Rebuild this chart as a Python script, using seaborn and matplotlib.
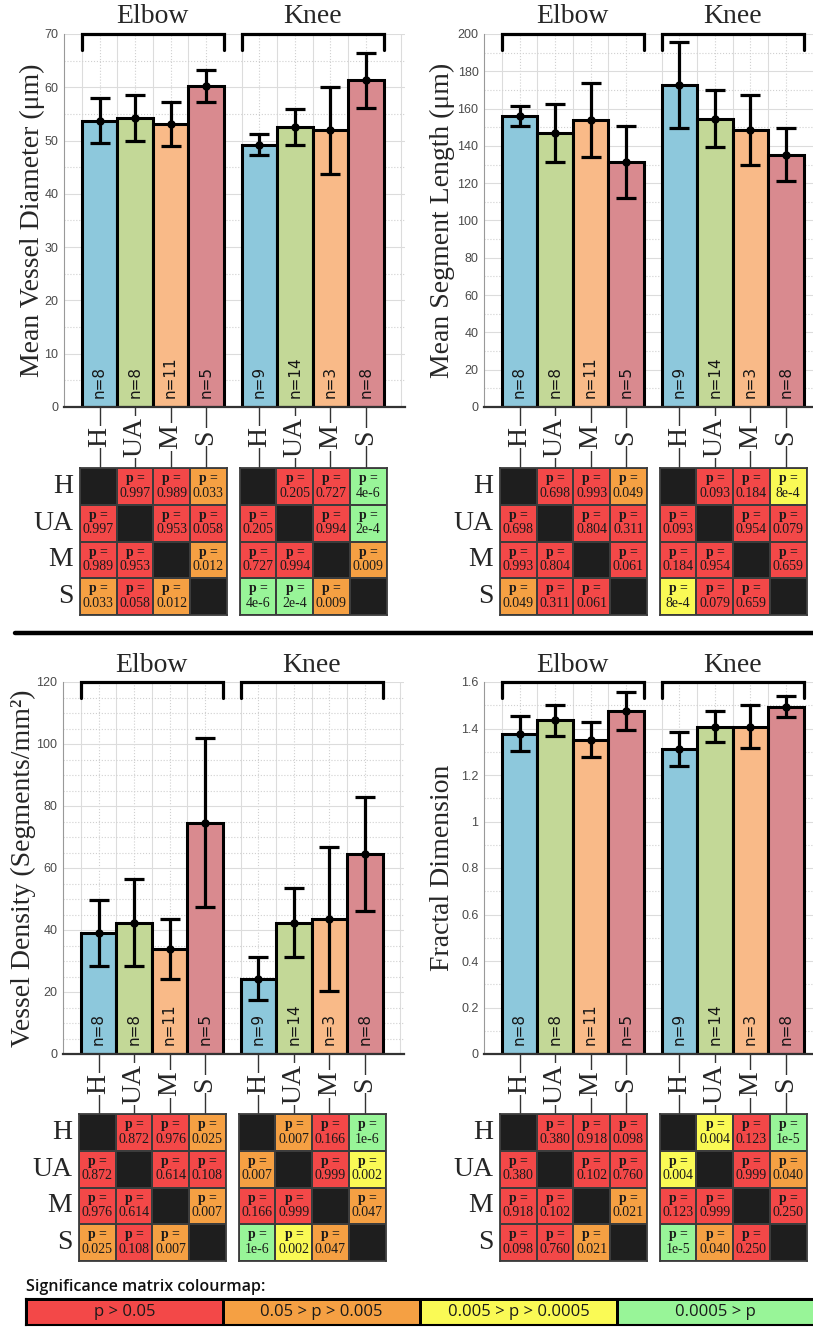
import matplotlib
matplotlib.use("Agg")
import matplotlib.pyplot as plt
import numpy as np
import pandas as pd
import seaborn as sns
from matplotlib.colors import ListedColormap
from matplotlib.lines import Line2D
from matplotlib.ticker import MultipleLocator, AutoMinorLocator, FuncFormatter

sns.set_style("white")
plt.rcParams["font.family"] = ["Liberation Serif", "DejaVu Serif"]
plt.rcParams["mathtext.fontset"] = "custom"
plt.rcParams["mathtext.rm"] = "Liberation Serif"
plt.rcParams["mathtext.bf"] = "Liberation Serif:bold"

# ---- data ----
groups = ["H", "UA", "M", "S"]
joints = ["Elbow", "Knee"]
n_elbow = [8, 8, 11, 5]
n_knee = [9, 14, 3, 8]

diam_mean_elbow = [53.7, 54.2, 53.1, 60.3]
diam_sd_elbow = [4.2, 4.3, 4.2, 3.0]
diam_mean_knee = [49.2, 52.6, 51.9, 61.3]
diam_sd_knee = [2.0, 3.4, 8.2, 5.2]

seg_mean_elbow = [155.9, 146.9, 153.9, 131.4]
seg_sd_elbow = [5.4, 15.6, 19.8, 19.2]
seg_mean_knee = [172.8, 154.6, 148.7, 135.3]
seg_sd_knee = [23.0, 15.2, 18.8, 14.3]

dens_mean_elbow = [39.0, 42.4, 33.9, 74.6]
dens_sd_elbow = [10.6, 14.1, 9.6, 27.3]
dens_mean_knee = [24.3, 42.4, 43.5, 64.5]
dens_sd_knee = [7.0, 11.0, 23.3, 18.5]

fd_mean_elbow = [1.378, 1.435, 1.352, 1.476]
fd_sd_elbow = [0.075, 0.068, 0.075, 0.081]
fd_mean_knee = [1.310, 1.408, 1.408, 1.494]
fd_sd_knee = [0.073, 0.068, 0.094, 0.046]

# pairwise p-values, order: H-UA, H-M, H-S, UA-M, UA-S, M-S
diam_p_elbow = ["0.997", "0.989", "0.033", "0.953", "0.058", "0.012"]
diam_p_knee = ["0.205", "0.727", "4e-6", "0.994", "2e-4", "0.009"]
seg_p_elbow = ["0.698", "0.993", "0.049", "0.804", "0.311", "0.061"]
seg_p_knee = ["0.093", "0.184", "8e-4", "0.954", "0.079", "0.659"]
dens_p_elbow = ["0.872", "0.976", "0.025", "0.614", "0.108", "0.007"]
dens_p_knee = ["0.007", "0.166", "1e-6", "0.999", "0.002", "0.047"]
fd_p_elbow = ["0.380", "0.918", "0.098", "0.102", "0.760", "0.021"]
fd_p_knee = ["0.004", "0.123", "1e-5", "0.999", "0.040", "0.250"]

legend_labels = ["p > 0.05", "0.05 > p > 0.005", "0.005 > p > 0.0005", "0.0005 > p"]

bar_colors = {"H": "#8DC8DC", "UA": "#C3D897", "M": "#F9BA88", "S": "#D98A8F"}
sig_cmap = ListedColormap(["#1e1e1e", "#F34848", "#F5A043", "#FAFA55", "#98F598"])
pos_elbow = [1, 2, 3, 4]
pos_knee = [5.5, 6.5, 7.5, 8.5]
pairs = [(0, 1), (0, 2), (0, 3), (1, 2), (1, 3), (2, 3)]

W, H = 813, 1328
fig = plt.figure(figsize=(W / 100, H / 100), dpi=100)


def box(l, t, w, h):
    return [l / W, 1 - (t + h) / H, w / W, h / H]


def level(p):
    p = float(p)
    if p > 0.05:
        return 1
    if p > 0.005:
        return 2
    if p > 0.0005:
        return 3
    return 4


def sig_matrix(pvals):
    cat = np.zeros((4, 4))
    lab = np.full((4, 4), "", dtype=object)
    for (i, j), p in zip(pairs, pvals):
        for a, b in ((i, j), (j, i)):
            cat[a, b] = level(p)
            lab[a, b] = "$\\mathbf{p}$ =\n" + p
    return cat, lab


panels = [
    dict(rect=(64, 34, 341, 373), mtop=468, ylabel="Mean Vessel Diameter (μm)", ymax=70, step=10, minor=2,
         lx=-0.094, me=diam_mean_elbow, se=diam_sd_elbow, mk=diam_mean_knee, sk=diam_sd_knee,
         pe=diam_p_elbow, pk=diam_p_knee),
    dict(rect=(484, 34, 341, 373), mtop=468, ylabel="Mean Segment Length (μm)", ymax=200, step=20, minor=2,
         lx=-0.123, me=seg_mean_elbow, se=seg_sd_elbow, mk=seg_mean_knee, sk=seg_sd_knee,
         pe=seg_p_elbow, pk=seg_p_knee),
    dict(rect=(63, 682, 341, 372), mtop=1114, ylabel="Vessel Density (Segments/mm²)", ymax=120, step=20, minor=4,
         lx=-0.117, me=dens_mean_elbow, se=dens_sd_elbow, mk=dens_mean_knee, sk=dens_sd_knee,
         pe=dens_p_elbow, pk=dens_p_knee),
    dict(rect=(484, 682, 341, 372), mtop=1114, ylabel="Fractal Dimension", ymax=1.6, step=0.2, minor=2,
         lx=-0.123, me=fd_mean_elbow, se=fd_sd_elbow, mk=fd_mean_knee, sk=fd_sd_knee,
         pe=fd_p_elbow, pk=fd_p_knee),
]

unit = 341 / 9.6  # pixels per x unit

for pn in panels:
    l, t, w, h = pn["rect"]
    ax = fig.add_axes(box(l, t, w, h))
    df = pd.DataFrame({
        "x": pos_elbow + pos_knee,
        "value": pn["me"] + pn["mk"],
        "sd": pn["se"] + pn["sk"],
        "group": groups + groups,
        "n": n_elbow + n_knee,
    })
    sns.barplot(data=df, x="x", y="value", hue="group", hue_order=groups, palette=bar_colors,
                native_scale=True, width=1, errorbar=None, saturation=1, edgecolor="black",
                linewidth=2.2, legend=False, ax=ax, zorder=2)
    ax.errorbar(df["x"], df["value"], yerr=df["sd"], fmt="o", color="black", ms=5,
                elinewidth=2.3, capsize=7, capthick=2.3, zorder=4)

    ax.set_xlim(0, 9.6)
    ax.set_ylim(0, pn["ymax"])
    ax.set_xlabel("")
    ax.set_xticks([])
    ax.yaxis.set_major_locator(MultipleLocator(pn["step"]))
    ax.yaxis.set_minor_locator(AutoMinorLocator(pn["minor"]))
    ax.yaxis.set_major_formatter(FuncFormatter(lambda v, _: "%g" % round(v, 3)))
    ax.tick_params(axis="y", which="major", labelsize=9, labelcolor="#4a4a4a", length=4,
                   direction="in", color="#777777", pad=4)
    ax.tick_params(axis="y", which="minor", length=0)
    for lbl in ax.get_yticklabels():
        lbl.set_family("Liberation Sans")
    ax.set_axisbelow(True)
    ax.grid(axis="y", which="major", color="#dcdcdc", lw=0.8)
    ax.grid(axis="y", which="minor", color="#d0d0d0", lw=0.8, ls=":")
    for px in pos_elbow + pos_knee:
        ax.axvline(px, color="#d0d0d0", lw=0.8, ls=":", zorder=0.5)
        ax.axvline(px - 0.5, color="#dcdcdc", lw=0.8, zorder=0.5)
    ax.axvline(9.5, color="#dcdcdc", lw=0.8, zorder=0.5)
    sns.despine(ax=ax, top=True, right=True)
    ax.spines["left"].set_color("#999999")
    ax.spines["left"].set_linewidth(0.8)
    ax.spines["bottom"].set_color("#333333")
    ax.spines["bottom"].set_linewidth(1.6)

    ax.set_ylabel(pn["ylabel"], fontsize=20, va="center")
    ax.yaxis.set_label_coords(pn["lx"], 0.5)

    tr = ax.get_xaxis_transform()
    # n labels inside bars
    for px, nn in zip(df["x"], df["n"]):
        ax.text(px, 9 / h, "n=%d" % nn, rotation=90, ha="center", va="bottom", transform=tr,
                fontsize=11, family="DejaVu Sans", color="#151515", zorder=5)
    # brackets and joint titles
    for name, ps in zip(joints, (pos_elbow, pos_knee)):
        x0, x1 = ps[0] - 0.5, ps[-1] + 0.5
        d = 16 / h
        ax.plot([x0, x0, x1, x1], [1 - d, 1, 1, 1 - d], color="black", lw=2.3, transform=tr,
                clip_on=False, solid_joinstyle="miter", zorder=6)
        ax.text((x0 + x1) / 2, 1 + 17 / h, name, ha="center", va="center", transform=tr,
                fontsize=20, clip_on=False)
    # group labels with connectors to the matrices
    ybot = -(pn["mtop"] - (t + h)) / h
    for px, g in zip(df["x"], df["group"]):
        ax.plot([px, px], [0, ybot], color="#333333", lw=1.0, transform=tr, clip_on=False, zorder=3)
        ax.text(px, -30 / h, g, rotation=90, ha="center", va="center", transform=tr, fontsize=20,
                clip_on=False, zorder=7,
                bbox=dict(boxstyle="square,pad=0.05", fc="white", ec="none"))

    # significance matrices
    for k, (ps, pv) in enumerate(((pos_elbow, pn["pe"]), (pos_knee, pn["pk"]))):
        mleft = l + (ps[0] - 0.5) * unit - 2
        mx = fig.add_axes(box(mleft, pn["mtop"], 147, 147))
        cat, lab = sig_matrix(pv)
        sns.heatmap(cat, cmap=sig_cmap, vmin=-0.5, vmax=4.5, annot=lab, fmt="", cbar=False,
                    linewidths=1.3, linecolor="#3c3c3c", xticklabels=False, yticklabels=False,
                    ax=mx,
                    annot_kws=dict(fontsize=10, family="Liberation Serif", color="#1a1a1a",
                                   linespacing=0.95))
        for s in mx.spines.values():
            s.set_visible(True)
            s.set_color("#3c3c3c")
            s.set_linewidth(1.3)
        if k == 0:
            for i, g in enumerate(groups):
                mx.text(-0.18, i + 0.5, g, ha="right", va="center", fontsize=20)

# separator between the two rows
fig.add_artist(Line2D([15 / W, 1.0], [1 - 633 / H, 1 - 633 / H], color="black", lw=3.2,
                      transform=fig.transFigure))

# colourmap legend
fig.text(26 / W, 1 - 1287 / H, "Significance matrix colourmap:", ha="left", va="center",
         fontsize=11.5, family="Open Sans", weight="semibold", color="#111111")
lx = fig.add_axes(box(26, 1299, 788, 26))
sns.heatmap(np.array([[1, 2, 3, 4]]), cmap=sig_cmap, vmin=-0.5, vmax=4.5,
            annot=np.array([legend_labels], dtype=object), fmt="", cbar=False, linewidths=2,
            linecolor="black", xticklabels=False, yticklabels=False, ax=lx,
            annot_kws=dict(fontsize=12, family="Open Sans", color="#1a1a1a"))
for s in lx.spines.values():
    s.set_visible(True)
    s.set_color("black")
    s.set_linewidth(1.5)

fig.savefig("out.png", dpi=100)
